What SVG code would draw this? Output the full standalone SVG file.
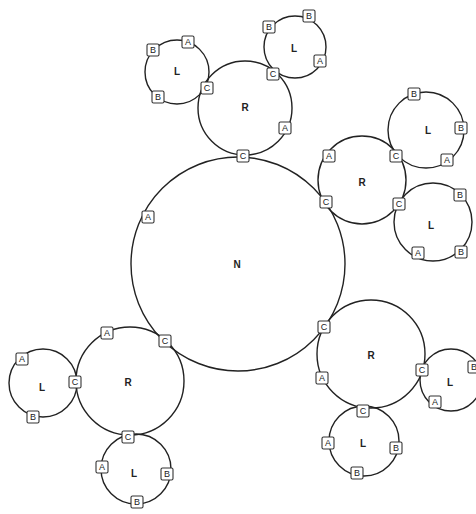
<svg xmlns="http://www.w3.org/2000/svg" width="476" height="514" viewBox="0 0 476 514">
<style>
.c{fill:none;stroke:#222;stroke-width:1.4}
.lbl{font-family:"Liberation Sans",Arial,sans-serif;font-size:10px;font-weight:bold;fill:#222;text-anchor:middle;dominant-baseline:central}
.pb{fill:#fff;stroke:#333;stroke-width:1.1}
.pt{font-family:"Liberation Sans",Arial,sans-serif;font-size:9px;fill:#222;text-anchor:middle;dominant-baseline:central}
</style>
<defs>
<g id="port"><rect class="pb" x="-6" y="-6" width="12" height="12" rx="1.5"/></g>
</defs>
<rect width="476" height="514" fill="#fff"/>
<g id="connectors"></g>
<g id="N"><circle class="c" cx="238" cy="264" r="107"/><text class="lbl" x="237" y="264">N</text></g>
<g id="R1"><circle class="c" cx="245" cy="108" r="47"/><text class="lbl" x="245" y="107">R</text></g>
<g id="L1"><circle class="c" cx="177" cy="72" r="32"/><text class="lbl" x="177" y="71">L</text></g>
<g id="L2"><circle class="c" cx="295" cy="47" r="31"/><text class="lbl" x="294" y="48">L</text></g>
<g id="R2"><circle class="c" cx="362" cy="180" r="44"/><text class="lbl" x="362" y="182">R</text></g>
<g id="L3"><circle class="c" cx="426" cy="130" r="38"/><text class="lbl" x="428" y="130">L</text></g>
<g id="L4"><circle class="c" cx="433" cy="222" r="39"/><text class="lbl" x="431" y="225">L</text></g>
<g id="R3"><circle class="c" cx="371" cy="354" r="54"/><text class="lbl" x="371" y="355">R</text></g>
<g id="L5"><circle class="c" cx="451" cy="380" r="31"/><text class="lbl" x="450" y="382">L</text></g>
<g id="L6"><circle class="c" cx="364" cy="441" r="35"/><text class="lbl" x="363" y="443">L</text></g>
<g id="R4"><circle class="c" cx="130" cy="381" r="54"/><text class="lbl" x="128" y="382">R</text></g>
<g id="L7"><circle class="c" cx="43" cy="383" r="34"/><text class="lbl" x="42" y="387">L</text></g>
<g id="L8"><circle class="c" cx="136" cy="469" r="35"/><text class="lbl" x="134" y="473">L</text></g>
<g id="ports">
<use href="#port" x="243" y="156"/><text class="pt" x="243" y="156">C</text>
<use href="#port" x="148" y="217"/><text class="pt" x="148" y="217">A</text>
<use href="#port" x="326" y="202"/><text class="pt" x="326" y="202">C</text>
<use href="#port" x="324" y="327"/><text class="pt" x="324" y="327">C</text>
<use href="#port" x="165" y="341"/><text class="pt" x="165" y="341">C</text>
<use href="#port" x="153" y="50"/><text class="pt" x="153" y="50">B</text>
<use href="#port" x="188" y="42"/><text class="pt" x="188" y="42">A</text>
<use href="#port" x="207" y="88"/><text class="pt" x="207" y="88">C</text>
<use href="#port" x="158" y="97"/><text class="pt" x="158" y="97">B</text>
<use href="#port" x="273" y="74"/><text class="pt" x="273" y="74">C</text>
<use href="#port" x="285" y="128"/><text class="pt" x="285" y="128">A</text>
<use href="#port" x="269" y="27"/><text class="pt" x="269" y="27">B</text>
<use href="#port" x="309" y="16"/><text class="pt" x="309" y="16">B</text>
<use href="#port" x="320" y="61"/><text class="pt" x="320" y="61">A</text>
<use href="#port" x="329" y="156"/><text class="pt" x="329" y="156">A</text>
<use href="#port" x="396" y="156"/><text class="pt" x="396" y="156">C</text>
<use href="#port" x="399" y="204"/><text class="pt" x="399" y="204">C</text>
<use href="#port" x="414" y="94"/><text class="pt" x="414" y="94">B</text>
<use href="#port" x="461" y="128"/><text class="pt" x="461" y="128">B</text>
<use href="#port" x="447" y="160"/><text class="pt" x="447" y="160">A</text>
<use href="#port" x="460" y="195"/><text class="pt" x="460" y="195">B</text>
<use href="#port" x="461" y="252"/><text class="pt" x="461" y="252">B</text>
<use href="#port" x="418" y="253"/><text class="pt" x="418" y="253">A</text>
<use href="#port" x="322" y="378"/><text class="pt" x="322" y="378">A</text>
<use href="#port" x="422" y="370"/><text class="pt" x="422" y="370">C</text>
<use href="#port" x="363" y="411"/><text class="pt" x="363" y="411">C</text>
<use href="#port" x="474" y="367"/><text class="pt" x="474" y="367">B</text>
<use href="#port" x="435" y="402"/><text class="pt" x="435" y="402">A</text>
<use href="#port" x="328" y="443"/><text class="pt" x="328" y="443">A</text>
<use href="#port" x="396" y="448"/><text class="pt" x="396" y="448">B</text>
<use href="#port" x="357" y="473"/><text class="pt" x="357" y="473">B</text>
<use href="#port" x="107" y="333"/><text class="pt" x="107" y="333">A</text>
<use href="#port" x="75" y="382"/><text class="pt" x="75" y="382">C</text>
<use href="#port" x="128" y="437"/><text class="pt" x="128" y="437">C</text>
<use href="#port" x="22" y="359"/><text class="pt" x="22" y="359">A</text>
<use href="#port" x="33" y="417"/><text class="pt" x="33" y="417">B</text>
<use href="#port" x="102" y="467"/><text class="pt" x="102" y="467">A</text>
<use href="#port" x="167" y="474"/><text class="pt" x="167" y="474">B</text>
<use href="#port" x="137" y="502"/><text class="pt" x="137" y="502">B</text>
</g>
</svg>
